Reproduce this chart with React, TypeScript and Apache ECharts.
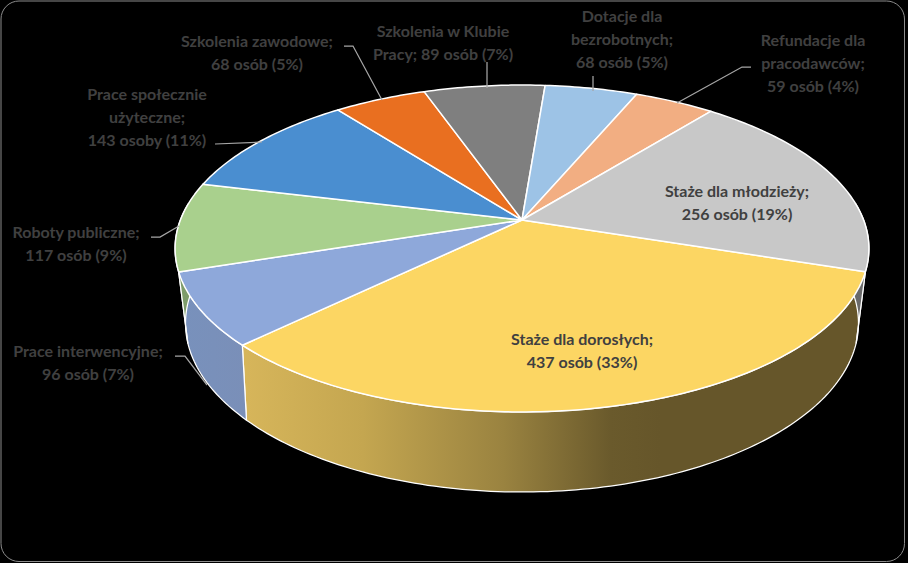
import React, { useEffect, useRef } from "react";
import * as echarts from "echarts";

// ---- data ----
const sliceNames = [
  "Staże dla dorosłych",
  "Prace interwencyjne",
  "Roboty publiczne",
  "Prace społecznie użyteczne",
  "Szkolenia zawodowe",
  "Szkolenia w Klubie Pracy",
  "Dotacje dla bezrobotnych",
  "Refundacje dla pracodawców",
  "Staże dla młodzieży",
];
const sliceValues = [437, 96, 117, 143, 68, 89, 68, 59, 256];
const personWords = ["osób", "osób", "osób", "osoby", "osób", "osób", "osób", "osób", "osób"];

// ---- styling and layout ----
const faceColors = ["#FCD663", "#8EA8DA", "#A9D08D", "#4A8ED0", "#E96F20", "#7F7F7F", "#9DC3E6", "#F2AE82", "#C8C8C8"];
const wallStops: [number, string][][] = [
  [[0, "#D6B55A"], [0.28, "#C4A650"], [0.62, "#9A8340"], [0.88, "#6A5A2C"], [1, "#66562A"]],
  [[0, "#7891BC"], [1, "#7A8FB8"]],
  [[0, "#7E9C6A"], [1, "#7E9C6A"]],
  [[0, "#38699C"], [1, "#38699C"]],
  [[0, "#A05016"], [1, "#A05016"]],
  [[0, "#5A5A5A"], [1, "#5A5A5A"]],
  [[0, "#7090A8"], [1, "#7090A8"]],
  [[0, "#A87858"], [1, "#A87858"]],
  [[0, "#6A6A6A"], [1, "#6A6A6A"]],
];
const wallGradientRange: [number, number][] = [
  [247, 660], [180, 247], [170, 200], [170, 200], [170, 200], [170, 200], [170, 200], [170, 200], [850, 870],
];
const labelLines = [
  ["Staże dla dorosłych;"],
  ["Prace interwencyjne;"],
  ["Roboty publiczne;"],
  ["Prace społecznie", "użyteczne;"],
  ["Szkolenia zawodowe;"],
  ["Szkolenia w Klubie", "Pracy;"],
  ["Dotacje dla", "bezrobotnych;"],
  ["Refundacje dla", "pracodawców;"],
  ["Staże dla młodzieży;"],
];
const labelCenters: [number, number][] = [
  [582, 349.5], [88, 361.5], [76, 242.5], [147, 116], [257, 52], [443, 41.5], [622, 38], [813, 62], [737, 201.5],
];
const leaders: number[][][] = [
  [],
  [[175, 356], [185, 356], [207, 385]],
  [[151, 237], [160, 237], [179, 226]],
  [[215, 144], [262, 142]],
  [[344, 46], [353, 46], [382, 100]],
  [[487, 62], [487, 88]],
  [[593, 76], [593, 91]],
  [[751, 67], [742, 67], [677, 103]],
  [],
];

const START_DEG = 18;
const upper = { cx: 522, cy: 220, a: 341.6, b: 158.5, k: 0.1743 };
const lower = { cx: 522, cy: 289.5, a: 329.7, b: 162, k: 0.2 };

function project(p: typeof upper, deg: number): number[] {
  const t = (deg * Math.PI) / 180;
  const X = Math.cos(t);
  const Y = Math.sin(t);
  const s = 1 / (1 - p.k * Y);
  return [p.cx + p.a * X * s, p.cy + p.b * Y * s];
}
function arc(p: typeof upper, from: number, to: number): number[][] {
  const n = Math.max(2, Math.ceil(Math.abs(to - from)));
  const pts: number[][] = [];
  for (let i = 0; i <= n; i++) pts.push(project(p, from + ((to - from) * i) / n));
  return pts;
}

const total = sliceValues.reduce((a, b) => a + b, 0);
const bounds: number[] = [];
{
  let acc = START_DEG;
  bounds.push(acc);
  sliceValues.forEach((v) => {
    acc += (v / total) * 360;
    bounds.push(acc);
  });
}

// Visible part of the outer wall of a slice (angles are measured clockwise on screen).
function wallRange(i: number): [number, number] | null {
  const ranges: [number, number][] = [
    [bounds[i], bounds[i + 1]],
    [bounds[i] - 360, bounds[i + 1] - 360],
  ];
  for (const [a, b] of ranges) {
    const from = Math.max(a, -6);
    const to = Math.min(b, 186);
    if (to > from) return [from, to];
  }
  return null;
}

export default function App() {
  const ref = useRef<HTMLDivElement>(null);

  useEffect(() => {
    document.body.style.margin = "0";
    document.body.style.background = "#000";
    const chart = echarts.init(ref.current!, undefined, { renderer: "svg" });

    const data = sliceNames.map((name, i) => ({ name, value: [i, sliceValues[i]] }));

    const texts = sliceNames.map((_, i) => {
      const pct = Math.round((sliceValues[i] / total) * 100);
      const lines = [...labelLines[i]];
      const tail = `${sliceValues[i]} ${personWords[i]} (${pct}%)`;
      if (lines[lines.length - 1] === "Pracy;") lines[lines.length - 1] = `Pracy; ${tail}`;
      else lines.push(tail);
      return {
        type: "text",
        x: labelCenters[i][0],
        y: labelCenters[i][1],
        z: 20,
        style: {
          text: lines.join("\n"),
          fill: "#404040",
          font: 'bold 16px Lato, "Open Sans", sans-serif',
          lineHeight: 23,
          align: "center",
          verticalAlign: "middle",
        },
      };
    });

    const leaderLines = leaders
      .filter((l) => l.length)
      .map((points) => ({
        type: "polyline",
        z: 15,
        shape: { points },
        style: { stroke: "#A6A6A6", lineWidth: 1.25, fill: "none" },
      }));

    chart.setOption({
      animation: false,
      backgroundColor: "#000",
      graphic: [
        {
          type: "rect",
          z: 0,
          shape: { x: 1, y: 1, width: 903.5, height: 560.5, r: 18 },
          style: { fill: "#000", stroke: "#8C8C8C", lineWidth: 1 },
        },
        ...leaderLines,
        ...texts,
      ],
      series: [
        {
          type: "custom",
          coordinateSystem: "none",
          silent: true,
          z: 3,
          data,
          renderItem: (_: any, api: any) => {
            const i = api.value(0);
            const r = wallRange(i);
            if (!r) return { type: "group", children: [] };
            const top = arc(upper, r[0], r[1]);
            const bottom = arc(lower, r[0], r[1]).reverse();
            const [gx0, gx1] = wallGradientRange[i];
            return {
              type: "polygon",
              shape: { points: [...top, ...bottom] },
              style: {
                fill: new echarts.graphic.LinearGradient(
                  gx0, 0, gx1, 0,
                  wallStops[i].map(([offset, color]) => ({ offset, color })),
                  true
                ),
                stroke: "#FFFFFF",
                lineWidth: 1.25,
                lineJoin: "round",
              },
            };
          },
        },
        {
          type: "custom",
          coordinateSystem: "none",
          silent: true,
          z: 4,
          data,
          renderItem: (_: any, api: any) => {
            const i = api.value(0);
            const edge = arc(upper, bounds[i], bounds[i + 1]);
            return {
              type: "polygon",
              shape: { points: [[upper.cx, upper.cy], ...edge] },
              style: { fill: faceColors[i], stroke: "#FFFFFF", lineWidth: 1.5, lineJoin: "round" },
            };
          },
        },
      ],
    });
    return () => chart.dispose();
  }, []);

  return <div ref={ref} style={{ width: 908, height: 563 }} />;
}
